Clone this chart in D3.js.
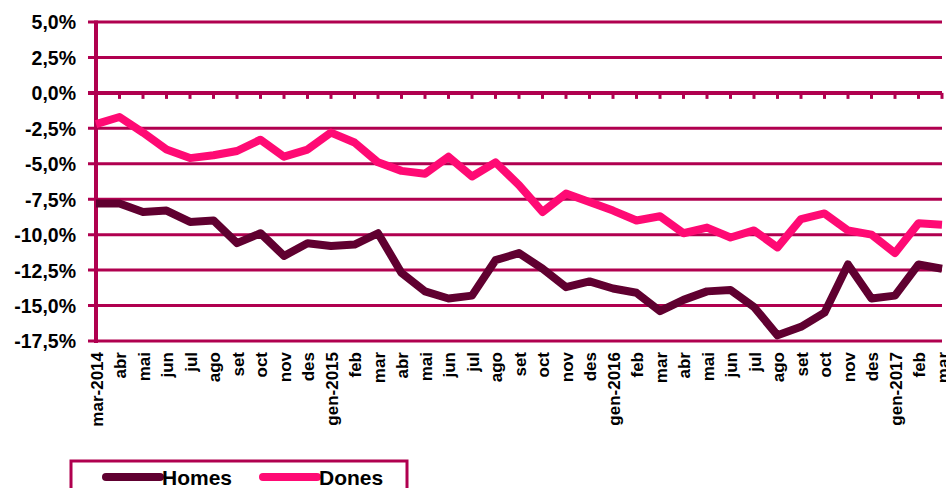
<!DOCTYPE html>
<html>
<head>
<meta charset="utf-8">
<script src="https://cdn.jsdelivr.net/npm/d3@7"></script>
<style>
  body { margin: 0; background: #fff; overflow: hidden; }
  text { font-family: "Liberation Sans", Arial, sans-serif; font-weight: bold; fill: #000; }
</style>
</head>
<body>
<div id="chart"></div>
<script>
// Month labels (one per point)
var months = ["mar-2014", "abr", "mai", "jun", "jul", "ago", "set", "oct", "nov", "des",
              "gen-2015", "feb", "mar", "abr", "mai", "jun", "jul", "ago", "set", "oct", "nov", "des",
              "gen-2016", "feb", "mar", "abr", "mai", "jun", "jul", "ago", "set", "oct", "nov", "des",
              "gen-2017", "feb", "mar"];

// Series values (%)
var homes = [-7.8, -7.8, -8.4, -8.3, -9.1, -9.0, -10.6, -9.9, -11.5, -10.6,
             -10.8, -10.7, -9.9, -12.7, -14.0, -14.5, -14.3, -11.8, -11.3, -12.4, -13.7, -13.3,
             -13.8, -14.1, -15.4, -14.6, -14.0, -13.9, -15.1, -17.1, -16.5, -15.5, -12.1, -14.5,
             -14.3, -12.1, -12.4];
var dones = [-2.2, -1.7, -2.8, -4.0, -4.6, -4.4, -4.1, -3.3, -4.5, -4.0,
             -2.8, -3.5, -4.9, -5.5, -5.7, -4.5, -5.9, -4.9, -6.5, -8.4, -7.1, -7.7,
             -8.3, -9.0, -8.7, -9.9, -9.5, -10.2, -9.7, -10.9, -8.9, -8.5, -9.7, -10.0,
             -11.3, -9.2, -9.3];

// Y tick values
var yTicks = [5, 2.5, 0, -2.5, -5, -7.5, -10, -12.5, -15, -17.5];

var w = 946, h = 488;
var gridColor = "#B0004F";

var svg = d3.select("#chart").append("svg")
    .attr("width", w)
    .attr("height", h);

var xScale = d3.scalePoint()
    .domain(d3.range(months.length))
    .range([96, 942]);

var yScale = d3.scaleLinear()
    .domain([-17.5, 5])
    .range([341, 22]);

// Horizontal gridlines
svg.append("g")
    .selectAll("line")
    .data(yTicks)
    .enter()
    .append("line")
    .attr("x1", 88)
    .attr("x2", 942)
    .attr("y1", d => yScale(d))
    .attr("y2", d => yScale(d))
    .attr("stroke", gridColor)
    .attr("stroke-width", d => d === 0 ? 4 : 3);

// Category ticks under the zero line
svg.append("g")
    .selectAll("line")
    .data(d3.range(months.length))
    .enter()
    .append("line")
    .attr("x1", d => xScale(d))
    .attr("x2", d => xScale(d))
    .attr("y1", yScale(0))
    .attr("y2", yScale(0) + 6)
    .attr("stroke", gridColor)
    .attr("stroke-width", 3);

// Y axis line
svg.append("line")
    .attr("x1", 96).attr("x2", 96)
    .attr("y1", yScale(5) - 1.5)
    .attr("y2", yScale(-17.5) + 2)
    .attr("stroke", gridColor)
    .attr("stroke-width", 4);

// Y labels
svg.append("g")
    .selectAll("text")
    .data(yTicks)
    .enter()
    .append("text")
    .attr("x", 76)
    .attr("y", d => yScale(d))
    .attr("dy", "0.38em")
    .attr("text-anchor", "end")
    .style("font-size", "19.5px")
    .text(d => d.toFixed(1).replace(".", ",") + "%");

// X labels, rotated
svg.append("g")
    .selectAll("text")
    .data(months)
    .enter()
    .append("text")
    .attr("transform", (d, i) => `translate(${xScale(i) + 6.5},352) rotate(-90)`)
    .attr("text-anchor", "end")
    .style("font-size", "17px")
    .text(d => d);

// Lines
var line = d3.line()
    .x((d, i) => xScale(i))
    .y(d => yScale(d));

svg.append("path")
    .datum(homes)
    .attr("d", line)
    .attr("fill", "none")
    .attr("stroke", "#600030")
    .attr("stroke-width", 8)
    .attr("stroke-linejoin", "round");

svg.append("path")
    .datum(dones)
    .attr("d", line)
    .attr("fill", "none")
    .attr("stroke", "#FF0A74")
    .attr("stroke-width", 8)
    .attr("stroke-linejoin", "round");

// Legend
var legend = svg.append("g");
legend.append("rect")
    .attr("x", 71).attr("y", 461)
    .attr("width", 336).attr("height", 40)
    .attr("fill", "#fff")
    .attr("stroke", gridColor)
    .attr("stroke-width", 3);

var legendItems = [{ name: "Homes", color: "#600030", x: 106 }, { name: "Dones", color: "#FF0A74", x: 263 }];
legendItems.forEach(item => {
    legend.append("line")
        .attr("x1", item.x).attr("x2", item.x + 54)
        .attr("y1", 477).attr("y2", 477)
        .attr("stroke", item.color)
        .attr("stroke-width", 8)
        .attr("stroke-linecap", "round");
    legend.append("text")
        .attr("x", item.x + 56)
        .attr("y", 485)
        .style("font-size", "21px")
        .text(item.name);
});
</script>
</body>
</html>
